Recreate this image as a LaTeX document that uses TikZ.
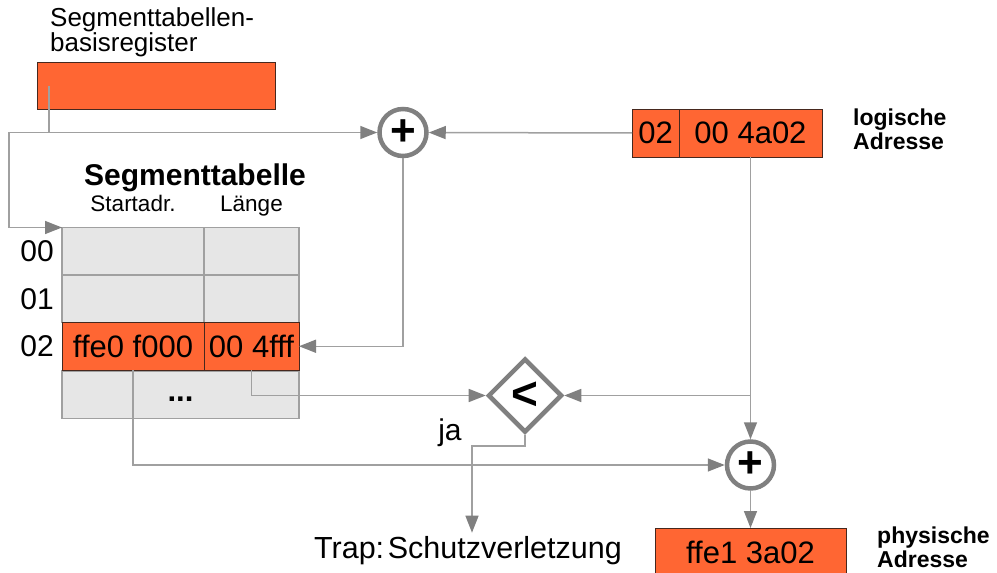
\documentclass[tikz,border=0pt]{standalone}
\usepackage{fontspec}
\setmainfont{Liberation Sans}
\usepackage{tikz}
\usetikzlibrary{calc,shapes,arrows.meta,positioning}
\definecolor{segorange}{RGB}{255,102,51}
\definecolor{cellgray}{RGB}{230,230,230}
\definecolor{linegray}{RGB}{160,160,160}
\definecolor{ringgray}{RGB}{128,128,128}
\definecolor{darkedge}{RGB}{70,40,30}
\tikzstyle{cell} = [rectangle, draw=linegray, line width=1.5pt, fill=cellgray, minimum height=47.5pt, inner sep=0pt, outer sep=0pt, font=\fontsize{31}{32}\selectfont]
\tikzstyle{hot} = [cell, draw=darkedge, line width=1pt, fill=segorange]
\tikzstyle{op} = [circle, draw=ringgray, line width=4.5pt, fill=white, minimum size=47pt, inner sep=0pt, font=\fontsize{44}{44}\selectfont\bfseries]
\tikzstyle{txt} = [inner sep=0pt, font=\fontsize{30}{31}\selectfont]
\tikzstyle{note} = [inner sep=0pt, align=left, font=\fontsize{23}{24}\selectfont\bfseries]
\tikzstyle{arrow} = [draw=linegray, line width=1.5pt, -{Triangle[length=17pt,width=13pt,color=ringgray]}]

\begin{document}
\begin{tikzpicture}[x=1pt,y=-1pt]
\useasboundingbox (0,0) rectangle (997,573);
% register
\node (basis) [hot, minimum width=238pt, minimum height=47pt] at (156,85.5) {};
\node (basislbl) [txt, anchor=north west, align=left, font=\fontsize{26}{24}\selectfont] at (50,7.5) {Segmenttabellen-\\basisregister};
% table
\node (title) [inner sep=0pt, anchor=base, font=\fontsize{30}{31}\selectfont\bfseries] at (195,185) {Segmenttabelle};
\node (hstart) [txt, anchor=base, font=\fontsize{22.5}{23}\selectfont] at (133,211) {Startadr.};
\node (hlen) [txt, anchor=base, font=\fontsize{22.5}{23}\selectfont] at (251.5,211) {Länge};
\node (c00a) [cell, minimum width=142pt] at (133,251.25) {};
\node (c00b) [cell, minimum width=95pt, right=0pt of c00a] {};
\node (c01a) [cell, minimum width=142pt, below=0pt of c00a] {};
\node (c01b) [cell, minimum width=95pt, right=0pt of c01a] {};
\node (cdots) [cell, minimum width=237pt, text height=14pt, text depth=0pt, font=\fontsize{31}{32}\selectfont\bfseries] at (180.5,394.5) {...};
\node (c02a) [hot, minimum width=142pt, below=0pt of c01a] {ffe0 f000};
\node (c02b) [hot, minimum width=95pt, right=0pt of c02a] {00 4fff};
\node (r00) [txt, anchor=east] at (54,251.25) {00};
\node (r01) [txt, anchor=east] at (54,298.75) {01};
\node (r02) [txt, anchor=east] at (54,346.25) {02};
% logical address
\node (la1) [hot, minimum width=47pt, minimum height=48pt] at (655.5,133) {02};
\node (la2) [hot, minimum width=143pt, minimum height=48pt, right=0pt of la1] {00 4a02};
\node (lalbl) [note, anchor=north west] at (853,108.5) {logische\\Adresse};
% operators
\node (add1) [op] at (403,132.5) {+};
\node (cmp) [diamond, aspect=1, draw=ringgray, line width=4.5pt, fill=white, minimum width=74pt, minimum height=74pt, inner sep=0pt, font=\fontsize{46}{46}\selectfont\bfseries] at (525,395.5) {<};
\node (add2) [op] at (750.5,465) {+};
% result
\node (phys) [hot, minimum width=191pt, minimum height=48pt] at (750.5,552) {ffe1 3a02};
\node (physlbl) [note, anchor=north west] at (877,526.5) {physische\\Adresse};
\node (trap) [txt, anchor=base, font=\fontsize{30.5}{31}\selectfont] at (468,558) {Trap:\hspace{0.12em}Schutzverletzung};
\node (ja) [txt, anchor=base] at (450,440) {ja};
% connectors
\coordinate (bstart) at ([xshift=12pt]basis.west);
\coordinate (lft) at (9,132.5);
\draw [arrow] (bstart) |- (add1);
\draw [arrow] (bstart |- add1) -- (lft) |- (c00a.north west);
\draw [arrow] (la1) -- (add1);
\draw [arrow] (add1) |- (c02b);
\draw [arrow] (c02b) |- (cmp);
\draw [arrow] (la2) -- (add2);
\draw [arrow] (la2 |- cmp) -- (cmp);
\draw [arrow] (cmp.south) -- ++(0,11) -| ([xshift=4pt,yshift=3pt]trap.north);
\draw [arrow] (c02a) |- (add2);
\draw [arrow] (add2) -- (phys);
\end{tikzpicture}
\end{document}
